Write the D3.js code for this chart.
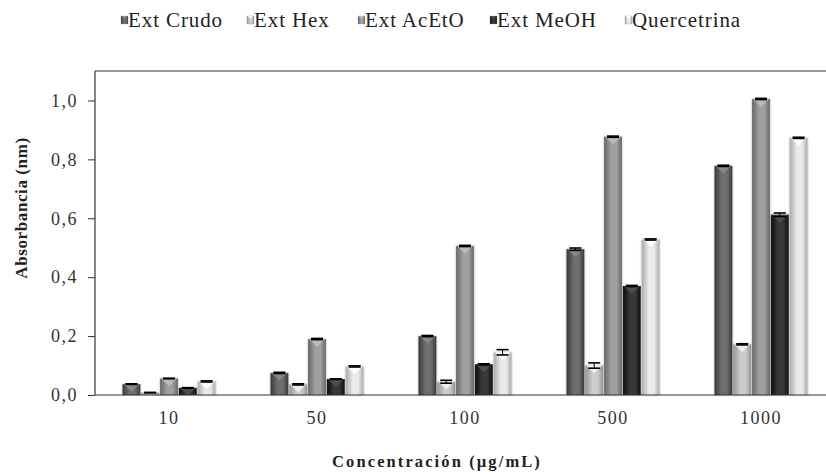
<!DOCTYPE html>
<html><head><meta charset="utf-8">
<script src="https://cdn.jsdelivr.net/npm/d3@7/dist/d3.min.js"></script>
<style>body{margin:0;background:#fff}svg{display:block} text{font-family:"Liberation Serif","Times New Roman",serif}</style>
</head><body>
<script>
const categories = ["10", "50", "100", "500", "1000"];
const seriesNames = ["Ext Crudo", "Ext Hex", "Ext AcEtO", "Ext MeOH", "Quercetrina"];
const extCrudo    = [0.037, 0.075, 0.200, 0.495, 0.778];
const extHex      = [0.008, 0.036, 0.045, 0.100, 0.172];
const extAcEtO    = [0.056, 0.190, 0.506, 0.877, 1.005];
const extMeOH     = [0.024, 0.054, 0.104, 0.370, 0.612];
const quercetrina = [0.046, 0.097, 0.145, 0.528, 0.873];
const errCrudo    = [0.001, 0.002, 0.002, 0.004, 0.002];
const errHex      = [0.001, 0.002, 0.005, 0.009, 0.002];
const errAcEtO    = [0.001, 0.002, 0.002, 0.002, 0.002];
const errMeOH     = [0.001, 0.001, 0.002, 0.002, 0.006];
const errQuer     = [0.002, 0.002, 0.009, 0.002, 0.002];
const yTicks = [0, 0.2, 0.4, 0.6, 0.8, 1.0];

const values = [extCrudo, extHex, extAcEtO, extMeOH, quercetrina];
const errors = [errCrudo, errHex, errAcEtO, errMeOH, errQuer];
const palette = [
  {edge:"#3a3a3a", mid:"#6e6e6e", top:"#8a8a8a"},
  {edge:"#969696", mid:"#cccccc", top:"#f2f2f2"},
  {edge:"#676767", mid:"#a0a0a0", top:"#bdbdbd"},
  {edge:"#101010", mid:"#383838", top:"#505050"},
  {edge:"#acacac", mid:"#eaeaea", top:"#ffffff"}
];

const W = 826, H = 472;
const svg = d3.select("body").append("svg").attr("width", W).attr("height", H);

const defs = svg.append("defs");
palette.forEach((p, i) => {
  const g = defs.append("linearGradient").attr("id", "g" + i).attr("x1", "0").attr("x2", "1").attr("y1", "0").attr("y2", "0");
  g.append("stop").attr("offset", "0").attr("stop-color", p.edge);
  g.append("stop").attr("offset", "0.4").attr("stop-color", p.mid);
  g.append("stop").attr("offset", "0.7").attr("stop-color", p.mid);
  g.append("stop").attr("offset", "1").attr("stop-color", p.edge);
});
defs.append("filter").attr("id", "sh").attr("x", "-20%").attr("y", "-5%").attr("width", "140%").attr("height", "110%")
  .append("feDropShadow").attr("dx", 0).attr("dy", 0).attr("stdDeviation", 0.8).attr("flood-color", "#000").attr("flood-opacity", 0.35);

const plotLeft = 95, plotTop = 71, plotBottom = 395, rightEnd = 835;
const x0 = d3.scaleBand().domain(categories).range([plotLeft, rightEnd]).paddingInner(0.365).paddingOuter(0.1825);
const x1 = d3.scaleBand().domain(seriesNames).range([0, x0.bandwidth()]);
const y = d3.scaleLinear().domain([0, 1.1]).range([plotBottom, plotTop]);

// frame
svg.append("line").attr("x1", plotLeft).attr("x2", W).attr("y1", plotTop).attr("y2", plotTop).attr("stroke", "#333").attr("stroke-width", 1.2);

// bars
const groups = svg.append("g").selectAll("g").data(categories).join("g")
  .attr("transform", d => `translate(${x0(d)},0)`);
groups.each(function(cat, ci) {
  const g = d3.select(this);
  seriesNames.forEach((s, si) => {
    const v = values[si][ci];
    const bx = x1(s), bw = x1.bandwidth();
    const by = y(v), bh = plotBottom - by;
    g.append("rect").attr("x", bx + 0.5).attr("y", by).attr("width", bw - 1).attr("height", bh)
      .attr("fill", `url(#g${si})`).attr("filter", "url(#sh)");
    const depth = Math.min(bw * 0.42, bh);
    g.append("path")
      .attr("d", `M${bx + 1.5},${by} L${bx + bw - 1.5},${by} L${bx + bw / 2},${by + depth} Z`)
      .attr("fill", palette[si].top).attr("opacity", 0.9);
    const e = errors[si][ci];
    const cx = bx + bw / 2, cw = bw * 0.32;
    const yt = y(v + e), yb = y(Math.max(0, v - e));
    g.append("line").attr("x1", cx).attr("x2", cx).attr("y1", yt).attr("y2", yb).attr("stroke", "#000").attr("stroke-width", 1);
    g.append("line").attr("x1", cx - cw).attr("x2", cx + cw).attr("y1", yt).attr("y2", yt).attr("stroke", "#000").attr("stroke-width", 1.6);
    g.append("line").attr("x1", cx - cw).attr("x2", cx + cw).attr("y1", yb).attr("y2", yb).attr("stroke", "#000").attr("stroke-width", 1.6);
  });
});

// axes
const yAxis = d3.axisLeft(y).tickValues(yTicks).tickSize(7).tickPadding(10)
  .tickFormat(d => d3.format(".1f")(d).replace(".", ","));
const ya = svg.append("g").attr("transform", `translate(${plotLeft},0)`).call(yAxis);
ya.attr("font-family", null).attr("font-size", null);
ya.select(".domain").attr("d", `M0,${plotTop}V${plotBottom}`).attr("stroke", "#333").attr("stroke-width", 1.2);
ya.selectAll(".tick line").attr("stroke", "#333");
ya.selectAll("text").attr("font-size", 18).attr("letter-spacing", 1.5).attr("fill", "#333");

const xAxis = d3.axisBottom(x0).tickSize(0).tickPadding(16);
const xa = svg.append("g").attr("transform", `translate(0,${plotBottom})`).call(xAxis);
xa.attr("font-family", null).attr("font-size", null);
xa.select(".domain").attr("d", `M${plotLeft},0H${W}`).attr("stroke", "#333").attr("stroke-width", 1.2);
xa.selectAll("text").attr("font-size", 18).attr("letter-spacing", 1.5).attr("fill", "#333");

// titles
svg.append("text").attr("transform", `translate(27,208) rotate(-90)`)
  .attr("text-anchor", "middle").attr("font-size", 17).attr("letter-spacing", 0.6).attr("font-weight", "bold").attr("fill", "#222")
  .text("Absorbancia (nm)");
svg.append("text").attr("x", 437).attr("y", 467).attr("text-anchor", "middle")
  .attr("font-size", 16.5).attr("letter-spacing", 2.1).attr("font-weight", "bold").attr("fill", "#222").text("Concentración (µg/mL)");

// legend
const legendX = [121, 247, 358, 490, 625];
const lg = svg.append("g").selectAll("g").data(seriesNames).join("g")
  .attr("transform", (d, i) => `translate(${legendX[i]},20)`);
lg.append("rect").attr("x", 0).attr("y", -4).attr("width", 7).attr("height", 8)
  .attr("fill", (d, i) => `url(#g${i})`).attr("stroke", "#888").attr("stroke-width", 0.3);
lg.append("path").attr("d", "M0.5,-4 L6.5,-4 L3.5,-0.8 Z").attr("fill", (d, i) => palette[i].top);
lg.append("text").attr("x", 7).attr("y", 7).attr("font-size", 21).attr("letter-spacing", 0.9).attr("fill", "#222").text(d => d);
</script>
</body></html>
